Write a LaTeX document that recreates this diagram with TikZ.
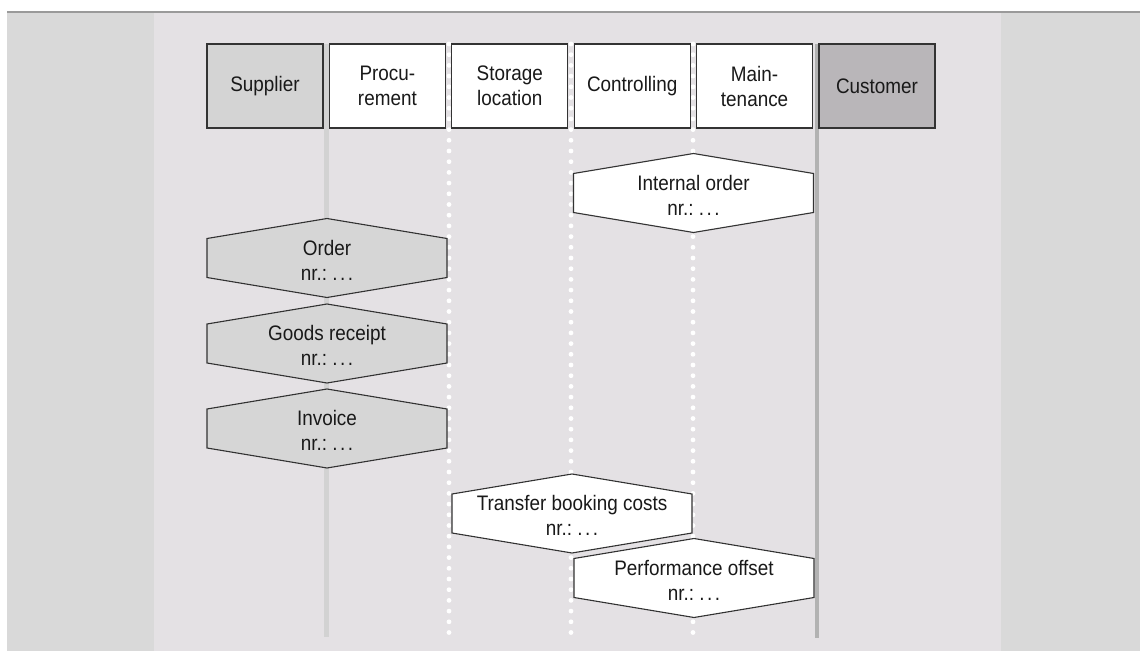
\documentclass[tikz,border=0pt]{standalone}
\usepackage{fontspec}
\setmainfont{Liberation Sans}[FakeStretch=0.9]
\usetikzlibrary{positioning}

\definecolor{panelgray}{HTML}{D9D9D9}
\definecolor{lanebg}{HTML}{E4E1E4}
\definecolor{rulegray}{HTML}{9A9A9A}
\definecolor{suppfill}{HTML}{D4D4D4}
\definecolor{custfill}{HTML}{B9B6B9}
\definecolor{docgray}{HTML}{D6D6D6}
\definecolor{edge}{HTML}{333333}
\definecolor{lightlane}{HTML}{D2D2D2}
\definecolor{darklane}{HTML}{B2B2B2}

\pgfdeclarelayer{bg}
\pgfdeclarelayer{hexa}
\pgfsetlayers{bg,hexa,main}

\newcommand{\nrdots}{nr.:~.\kern1.2pt.\kern1.2pt.}

\tikzset{
    lane/.style={draw=edge, line width=0.6pt, minimum width=58pt, minimum height=42pt,
        inner sep=0pt, align=center, text=black!90, font=\fontsize{10.5}{12.5}\selectfont},
    doc/.style={inner sep=0pt, align=center, text=black!90, font=\fontsize{10.5}{12.5}\selectfont},
    dotline/.style={white, line width=2.4pt, line cap=round, dash pattern=on 0pt off 5.35pt},
}

\begin{document}
\begin{tikzpicture}[x=0.5pt, y=-0.5pt]
        \useasboundingbox (0,0) rectangle (1140,651);

        % background panels
        \begin{pgfonlayer}{bg}
            \fill[panelgray] (7,12) rectangle (154,651);
            \fill[lanebg] (154,12) rectangle (1001,651);
            \fill[panelgray] (1001,12) rectangle (1140,651);
            \draw[rulegray, line width=1.3pt] (7,12) -- (1140,12);

            \draw[lightlane, line width=2.5pt] (326,44) -- (326,637);
            \foreach \x in {449,571,693}
                \draw[dotline] (\x,44) -- (\x,640);
            \draw[darklane, line width=2pt] (816.5,44) -- (816.5,638);
        \end{pgfonlayer}

        % lane headers
        \node[lane, fill=suppfill] (supplier) at (265,86) {Supplier};
        \node[lane, fill=white, right=2.6pt of supplier] (procurement) {Procu-\\rement};
        \node[lane, fill=white, right=2.6pt of procurement] (storage) {Storage\\location};
        \node[lane, fill=white, right=2.6pt of storage] (controlling) {Controlling};
        \node[lane, fill=white, right=2.6pt of controlling] (maintenance) {Main-\\tenance};
        \node[lane, fill=custfill, right=2.6pt of maintenance] (customer) {Customer};

        % documents
        \node[doc] (intorder) at (693.5,195) {Internal order\\\nrdots};
        \node[doc] (order) at (327,260) {Order\\\nrdots};
        \node[doc] (goods) at (327,345.5) {Goods receipt\\\nrdots};
        \node[doc] (invoice) at (327,430.5) {Invoice\\\nrdots};
        \node[doc] (transfer) at (572,515.5) {Transfer booking costs\\\nrdots};
        \node[doc] (offset) at (694,580) {Performance offset\\\nrdots};

        \begin{pgfonlayer}{hexa}
            \foreach \n/\col in {intorder/white, order/docgray, goods/docgray,
                    invoice/docgray, transfer/white, offset/white}
                \draw[edge, line width=0.55pt, fill=\col] (\n.center) ++(-60pt,-8.75pt)
                    -- ++(0,19.5pt) -- ++(60pt,10pt) -- ++(60pt,-10pt)
                    -- ++(0,-19.5pt) -- ++(-60pt,-10pt) -- cycle;
        \end{pgfonlayer}
\end{tikzpicture}
\end{document}
